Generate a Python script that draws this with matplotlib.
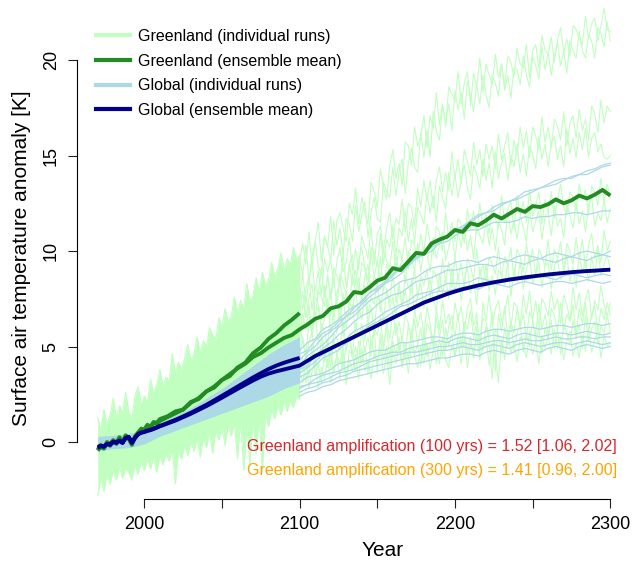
import numpy as np
import matplotlib
matplotlib.use("Agg")
import matplotlib.pyplot as plt
from matplotlib.lines import Line2D

plt.rcParams['font.family'] = ['Liberation Sans', 'DejaVu Sans']

# ---------------- data ----------------
# Envelope of the dense Greenland 1970-2100 ensemble (2-year grid)
band_years = np.arange(1970, 2101, 2)
green_band_upper = [1.3, 0.6, 1.7, 1.0, 1.4, 2.3, 1.2, 1.9, 1.5, 2.6, 1.6, 1.2, 2.4, 2.9, 2.0, 2.4,
                    2.1, 3.3, 2.6, 3.0, 3.8, 2.9, 3.4, 3.2, 4.6, 3.6, 4.2, 3.8, 4.4, 5.1,
                    4.3, 4.6, 5.5, 4.7, 5.3, 5.0, 6.0, 5.6, 5.4, 6.5, 6.0, 7.0, 6.3, 6.6, 7.6,
                    6.8, 7.4, 7.0, 8.3, 7.4, 7.7, 8.6, 7.9, 8.9, 8.2, 8.5, 9.4, 8.6, 9.1, 9.9,
                    8.9, 9.6, 9.3, 10.2, 9.5, 9.8]
green_band_lower = [-2.8, -1.9, -2.6, -1.7, -2.2, -1.5, -2.0, -1.3, -1.9, -1.4, -1.6, -2.0, -1.2, -1.7, -1.0, -1.5,
                    -0.9, -1.4, -0.8, -1.6, -0.7, -1.2, -0.6, -1.0, -0.4, -2.2, -0.5, -0.9, -0.2, -0.7, 0.0,
                    -0.5, 0.2, -0.8, 0.3, -0.3, 0.5, -0.6, 0.6, 0.1, 0.8, -0.2, 0.9, 0.3, 1.0, -0.9,
                    1.1, -1.5, 0.8, -1.2, 1.2, -0.6, 1.3, -1.6, 1.5, 0.8, 1.7, 1.2, 1.9, 1.4, 2.1,
                    1.6, 2.2, 1.8, 2.4, 2.2]

# Envelope of the dense global 1970-2100 ensemble (10-year grid)
gband_years = np.arange(1970, 2101, 10)
global_band_upper = [0.3, 0.35, 0.45, 0.6, 1.0, 1.4, 1.8, 2.3, 2.8, 3.4, 4.0, 4.6, 5.1, 5.5]
global_band_lower = [-0.45, -0.35, -0.3, -0.1, 0.3, 0.6, 0.9, 1.2, 1.5, 1.8, 2.1, 2.4, 2.8, 3.1]

# Long Greenland runs 2100-2300 (2-year grid)
long_years = np.arange(2100, 2301, 2)
greenland_runs = [
    [9.5, 10.4, 9.3, 11.0, 9.2, 10.5, 11.5, 9.5, 10.8, 10.2,
     11.8, 9.8, 11.6, 12.0, 11.2, 10.5, 12.5, 11.9, 13.3, 11.4,
     12.8, 12.0, 11.4, 13.6, 13.1, 12.3, 14.3, 13.3, 12.7, 14.5,
     15.3, 13.8, 14.6, 13.4, 15.7, 15.5, 14.5, 16.5, 15.5, 16.0,
     17.1, 15.4, 17.1, 16.4, 18.3, 16.6, 17.7, 16.5, 18.6, 18.2,
     17.8, 19.4, 17.7, 18.8, 19.4, 17.6, 19.3, 18.6, 20.1, 18.3,
     19.8, 19.2, 18.7, 20.3, 19.1, 19.8, 18.6, 20.2, 19.9, 19.1,
     20.6, 19.8, 19.6, 20.8, 19.1, 20.5, 20.8, 19.6, 21.3, 20.5,
     20.3, 21.2, 19.9, 21.0, 21.7, 20.4, 21.1, 20.2, 21.8, 21.6,
     21.1, 20.8, 22.3, 21.1, 21.9, 22.2, 21.0, 21.8, 22.7, 21.6, 21.5],
    [9.6, 8.7, 10.3, 8.5, 9.7, 10.5, 9.2, 8.8, 10.7, 10.3,
     9.5, 11.6, 10.3, 11.2, 9.8, 11.7, 11.4, 10.5, 12.4, 11.0,
     11.9, 12.6, 10.7, 12.0, 12.8, 11.7, 11.5, 13.6, 13.1, 12.8,
     14.4, 12.9, 14.1, 14.8, 13.0, 14.6, 15.4, 14.4, 14.1, 16.2,
     14.9, 16.3, 14.9, 17.3, 16.3, 15.8, 17.6, 16.7, 17.7, 16.3,
     18.4, 17.4, 18.3, 16.9, 18.9, 18.2, 17.3, 18.7, 17.7, 19.2,
     18.2, 17.5, 19.2, 18.8, 18.1, 19.8, 18.4, 19.2, 18.0, 19.6,
     19.5, 18.7, 20.2, 19.2, 18.6, 20.2, 19.7, 19.0, 20.7, 19.5,
     20.4, 19.2, 20.2, 20.9, 19.7, 20.5, 19.3, 21.0, 20.5, 20.1,
     21.5, 20.5, 20.1, 21.3, 21.0, 20.1, 21.7, 21.4, 20.7, 22.0, 21.0],
    [7.6, 8.8, 7.3, 8.5, 9.4, 7.9, 9.0, 7.7, 9.6, 8.9,
     9.6, 8.3, 9.4, 10.2, 8.9, 9.4, 10.7, 9.0, 10.1, 9.0,
     10.8, 10.2, 9.6, 11.3, 9.3, 10.9, 11.3, 10.0, 11.2, 12.0,
     10.6, 11.7, 11.4, 12.7, 11.0, 12.5, 12.3, 11.3, 13.3, 12.3,
     13.7, 12.6, 13.7, 12.2, 13.7, 14.4, 13.1, 14.1, 13.2, 15.2,
     13.8, 14.8, 13.5, 15.3, 14.7, 13.9, 15.7, 14.5, 15.3, 13.9,
     15.6, 14.8, 15.5, 14.3, 16.1, 14.8, 15.5, 16.2, 14.5, 15.8,
     15.0, 16.5, 15.4, 16.3, 14.9, 16.5, 16.0, 15.3, 17.0, 15.7,
     16.5, 15.4, 16.9, 16.5, 15.8, 17.3, 15.5, 16.7, 17.1, 15.9,
     17.4, 16.3, 16.9, 15.8, 17.6, 17.2, 16.2, 17.9, 16.7, 17.6, 17.3],
    [8.0, 6.9, 8.0, 8.7, 6.9, 8.1, 7.7, 9.1, 7.6, 8.7,
     7.5, 9.1, 8.7, 8.2, 9.9, 8.1, 9.3, 9.8, 8.2, 9.5,
     10.2, 9.1, 8.5, 10.2, 9.9, 9.2, 10.9, 9.3, 10.6, 10.2,
     11.3, 9.8, 11.2, 10.8, 12.1, 10.5, 11.7, 10.4, 12.3, 11.9,
     11.4, 13.0, 12.0, 12.9, 11.5, 13.4, 12.8, 12.2, 14.1, 12.9,
     14.0, 12.8, 13.7, 14.5, 13.3, 12.7, 14.5, 14.0, 13.3, 14.8,
     13.7, 14.6, 13.3, 15.2, 13.8, 14.6, 15.1, 13.7, 15.0, 14.4,
     15.6, 14.1, 15.1, 13.9, 15.5, 15.1, 14.3, 16.0, 14.8, 15.6,
     14.4, 15.6, 16.0, 14.8, 15.5, 14.4, 16.4, 15.1, 15.9, 14.9,
     16.2, 15.3, 16.4, 14.9, 15.9, 16.2, 15.2, 15.6, 14.9, 14.8, 15.0],
    [6.7, 7.9, 6.5, 7.5, 8.3, 6.5, 7.9, 7.6, 7.1, 8.8,
     7.5, 8.5, 7.1, 8.8, 8.3, 7.7, 9.3, 8.2, 9.0, 7.9,
     9.4, 9.1, 8.1, 10.0, 8.6, 9.5, 8.4, 10.1, 9.5, 9.1,
     10.5, 9.1, 10.1, 9.6, 10.7, 9.0, 10.6, 10.3, 9.5, 10.9,
     9.9, 11.4, 10.5, 9.8, 11.3, 11.0, 10.0, 12.0, 10.7, 11.5,
     10.5, 11.7, 11.4, 10.4, 12.2, 11.2, 12.1, 10.9, 12.5, 11.2,
     11.9, 10.9, 12.4, 11.7, 11.2, 12.9, 11.5, 12.2, 12.6, 11.1,
     12.9, 11.9, 12.6, 11.5, 13.2, 11.8, 12.4, 13.1, 11.4, 12.7,
     12.0, 13.1, 11.7, 12.7, 13.5, 12.3, 11.9, 13.1, 12.8, 12.1,
     13.5, 12.7, 13.2, 11.9, 13.4, 13.1, 12.4, 13.8, 12.6, 13.5, 12.8],
    [6.9, 6.0, 7.6, 6.6, 5.9, 7.6, 7.2, 6.4, 8.2, 6.9,
     7.9, 6.4, 7.8, 8.4, 7.2, 7.9, 7.0, 8.8, 7.8, 8.6,
     7.3, 8.7, 9.3, 7.8, 8.7, 8.3, 9.7, 7.9, 9.3, 8.9,
     8.4, 9.8, 8.9, 9.7, 8.3, 10.0, 9.5, 9.0, 10.4, 8.9,
     10.2, 9.9, 8.9, 10.7, 9.6, 10.3, 11.0, 9.5, 10.2, 10.9,
     9.6, 11.0, 10.2, 11.4, 10.0, 10.8, 9.6, 11.4, 10.8, 10.4,
     11.6, 10.3, 11.2, 10.0, 11.6, 11.1, 10.3, 12.1, 10.9, 11.6,
     10.6, 11.9, 11.2, 10.5, 12.3, 11.0, 11.6, 12.1, 10.6, 11.8,
     12.0, 10.8, 12.4, 11.3, 11.7, 10.7, 12.4, 11.9, 11.2, 12.6,
     11.4, 12.1, 11.0, 12.4, 12.8, 11.3, 12.0, 11.6, 12.7, 11.5, 12.2],
    [5.5, 6.7, 5.9, 7.2, 5.5, 6.6, 7.1, 5.9, 6.4, 7.5,
     5.7, 6.9, 7.4, 6.4, 7.8, 6.0, 7.3, 6.9, 8.0, 6.6,
     7.7, 8.2, 6.7, 7.6, 7.2, 8.4, 6.8, 8.2, 8.0, 7.3,
     8.9, 7.3, 8.3, 7.1, 8.7, 8.1, 7.8, 9.1, 7.5, 8.7,
     8.2, 9.1, 7.5, 9.0, 8.7, 7.9, 9.6, 8.4, 9.4, 8.1,
     9.7, 8.6, 9.4, 8.1, 9.6, 9.2, 8.5, 10.1, 8.7, 9.3,
     8.4, 9.7, 9.3, 8.8, 10.2, 8.6, 9.7, 9.2, 10.2, 8.4,
     10.1, 9.7, 8.9, 10.4, 9.3, 10.1, 8.7, 10.1, 9.7, 9.2,
     10.6, 9.0, 10.1, 9.6, 10.5, 8.9, 10.4, 10.0, 9.3, 10.7,
     9.6, 10.6, 9.1, 10.3, 10.9, 9.6, 10.3, 9.4, 11.1, 10.0, 10.5],
    [6.2, 5.2, 4.7, 6.2, 5.8, 6.7, 5.2, 6.2, 5.8, 5.0,
     6.9, 6.4, 5.7, 7.3, 5.5, 6.8, 6.4, 7.2, 5.7, 7.1,
     6.4, 7.7, 6.2, 7.1, 5.8, 7.6, 7.4, 6.4, 7.9, 7.0,
     7.6, 6.5, 8.2, 7.1, 7.9, 6.9, 8.5, 6.7, 7.8, 8.3,
     7.0, 7.9, 8.5, 7.5, 6.9, 8.8, 7.8, 8.6, 7.5, 9.1,
     7.8, 8.8, 7.4, 8.6, 9.1, 7.8, 8.4, 7.2, 9.1, 8.2,
     9.3, 7.9, 8.7, 7.7, 9.0, 8.7, 8.2, 9.4, 7.6, 9.1,
     8.4, 9.4, 8.0, 9.0, 9.7, 8.3, 8.7, 9.4, 8.1, 9.2,
     9.4, 8.0, 9.2, 9.6, 8.5, 8.9, 9.8, 8.4, 9.2, 8.1,
     9.9, 8.9, 9.5, 8.4, 9.7, 8.7, 10.1, 8.7, 9.3, 9.8, 9.0],
    [4.6, 5.5, 4.3, 5.2, 5.8, 4.1, 5.1, 5.7, 4.6, 5.4,
     4.4, 5.7, 5.4, 4.9, 6.3, 4.8, 5.7, 4.5, 6.2, 5.5,
     6.2, 5.3, 6.6, 5.0, 6.0, 5.6, 6.6, 4.8, 6.3, 5.4,
     6.9, 5.6, 6.3, 5.3, 6.7, 6.2, 5.3, 6.9, 6.0, 6.8,
     5.6, 7.1, 6.2, 5.0, 7.0, 5.9, 7.4, 6.2, 6.7, 5.8,
     7.3, 6.4, 7.1, 5.8, 7.0, 7.5, 6.1, 6.8, 4.5, 7.3,
     6.4, 7.7, 6.1, 7.0, 7.4, 6.3, 6.8, 7.7, 6.0, 7.3,
     7.1, 6.1, 7.7, 6.7, 7.9, 6.4, 7.4, 6.0, 7.5, 7.2,
     6.6, 7.9, 6.9, 7.5, 6.2, 7.7, 7.2, 6.4, 8.1, 6.9,
     7.8, 6.6, 7.5, 8.0, 6.4, 7.4, 6.9, 8.2, 7.2, 6.6, 7.3],
    [4.8, 3.7, 4.5, 3.4, 5.1, 4.5, 3.8, 5.4, 4.2, 5.0,
     3.9, 5.4, 4.5, 5.2, 3.8, 5.1, 5.5, 4.4, 5.0, 4.2,
     5.9, 4.7, 5.5, 4.5, 6.0, 3.6, 5.7, 5.1, 6.0, 4.5,
     5.6, 6.2, 4.8, 5.5, 4.6, 6.1, 5.3, 6.4, 5.1, 6.0,
     4.7, 6.2, 5.9, 5.0, 6.5, 5.5, 6.4, 4.8, 6.1, 6.6,
     5.5, 6.7, 5.1, 6.3, 5.9, 6.9, 5.4, 6.4, 5.1, 6.5,
     6.3, 5.5, 6.8, 3.7, 6.7, 5.8, 7.1, 5.5, 6.3, 5.7,
     7.0, 6.0, 6.7, 5.4, 6.8, 6.4, 5.6, 7.2, 5.9, 6.7,
     5.6, 7.0, 6.6, 5.9, 7.3, 5.8, 6.7, 6.3, 7.2, 5.6,
     7.0, 6.2, 7.3, 5.8, 6.7, 7.1, 5.8, 7.0, 6.4, 7.3, 6.6],
    [3.4, 4.4, 3.1, 4.2, 4.8, 3.5, 4.1, 3.1, 4.8, 3.9,
     4.9, 3.6, 4.6, 4.1, 5.0, 3.3, 4.8, 4.5, 3.7, 5.3,
     4.1, 5.0, 3.6, 5.3, 4.7, 4.0, 5.5, 4.3, 5.0, 3.9,
     5.3, 4.6, 5.5, 4.0, 5.2, 4.3, 5.9, 4.6, 5.1, 4.0,
     5.8, 4.5, 5.1, 5.6, 4.1, 5.4, 4.5, 6.0, 5.0, 5.7,
     4.5, 5.6, 4.9, 6.1, 4.6, 5.5, 4.4, 6.0, 5.4, 4.8,
     6.1, 5.2, 3.3, 5.9, 5.6, 4.6, 6.0, 5.0, 6.3, 4.8,
     5.7, 6.2, 4.7, 5.6, 5.0, 6.4, 5.2, 6.0, 4.6, 6.0,
     5.4, 6.4, 4.9, 5.9, 4.6, 6.2, 5.7, 5.1, 6.4, 5.4,
     6.2, 4.9, 6.6, 5.3, 5.9, 6.3, 5.1, 6.1, 5.7, 6.6, 5.8],
    [3.9, 3.1, 4.3, 2.8, 3.7, 4.2, 2.8, 3.9, 3.3, 4.4,
     3.1, 3.9, 4.5, 3.3, 4.7, 3.0, 4.3, 3.7, 4.6, 3.3,
     4.9, 3.7, 4.3, 3.3, 4.7, 4.1, 4.9, 3.6, 4.6, 3.0,
     4.9, 4.1, 5.1, 3.9, 4.7, 3.6, 5.1, 4.5, 3.9, 5.0,
     4.1, 5.2, 3.8, 4.8, 5.2, 4.1, 5.5, 4.3, 3.9, 5.1,
     4.5, 5.3, 4.1, 5.5, 3.9, 5.1, 4.7, 5.5, 4.3, 5.0,
     5.5, 4.0, 5.2, 4.6, 3.1, 5.4, 4.3, 5.7, 4.7, 5.2,
     4.2, 5.5, 5.1, 4.4, 5.8, 4.6, 5.3, 4.1, 5.6, 4.9,
     5.6, 4.6, 5.9, 4.9, 5.5, 4.3, 5.3, 5.8, 4.5, 5.2,
     4.4, 5.6, 4.8, 5.9, 4.7, 5.4, 5.8, 4.4, 5.6, 5.0, 5.2],
]

# Long global runs 2100-2300 (5-year grid)
glong_years = np.arange(2100, 2301, 5)
global_runs = [
    [4.8, 5.2, 5.4, 5.9, 6.1, 6.4, 6.8, 7.1, 7.3, 7.8, 8.0, 8.3, 8.7, 9.1, 9.3, 9.7, 9.9, 10.3, 10.5, 10.7,
     11.1, 11.3, 11.6, 11.9, 12.0, 12.3, 12.5, 12.6, 12.8, 13.1, 13.2, 13.3, 13.5, 13.7, 13.8, 13.8, 14.0,
     14.2, 14.3, 14.5, 14.6],
    [4.6, 4.8, 5.3, 5.7, 5.9, 6.3, 6.6, 6.8, 7.2, 7.6, 7.9, 8.3, 8.5, 8.8, 9.2, 9.6, 9.8, 10.0, 10.4, 10.8,
     11.0, 11.2, 11.5, 11.8, 12.0, 12.1, 12.4, 12.6, 12.7, 12.9, 13.1, 13.3, 13.4, 13.5, 13.7, 13.9, 14.0,
     14.0, 14.2, 14.4, 14.5],
    [4.3, 4.7, 5.0, 5.5, 5.8, 6.1, 6.6, 7.0, 7.4, 7.8, 8.1, 8.4, 8.8, 9.2, 9.4, 9.6, 9.9, 10.2, 10.4, 10.5,
     10.8, 11.0, 11.1, 11.1, 11.3, 11.5, 11.5, 11.5, 11.6, 11.8, 11.7, 11.8, 11.8, 11.9, 11.9, 12.0, 12.0,
     11.9, 12.0, 12.1, 12.1],
    [4.0, 4.5, 4.8, 5.1, 5.5, 6.0, 6.3, 6.6, 7.0, 7.4, 7.6, 7.8, 8.1, 8.4, 8.5, 8.6, 8.9, 9.1, 9.2, 9.2,
     9.4, 9.5, 9.5, 9.4, 9.6, 9.7, 9.6, 9.5, 9.7, 9.8, 9.7, 9.6, 9.8, 9.9, 9.8, 9.7, 9.9, 10.0, 9.9, 9.8, 10.0],
    [3.8, 4.0, 4.5, 4.9, 5.2, 5.6, 5.9, 6.3, 6.6, 6.8, 7.2, 7.5, 7.7, 7.8, 8.1, 8.4, 8.5, 8.6, 8.8, 9.0,
     9.0, 9.1, 9.2, 9.3, 9.3, 9.2, 9.4, 9.5, 9.4, 9.3, 9.5, 9.6, 9.5, 9.4, 9.6, 9.7, 9.6, 9.5, 9.7, 9.8, 9.7],
    [3.6, 3.9, 4.2, 4.6, 4.8, 5.1, 5.4, 5.8, 6.0, 6.2, 6.5, 6.8, 7.0, 7.2, 7.4, 7.7, 7.8, 7.9, 8.1, 8.3,
     8.3, 8.3, 8.4, 8.6, 8.5, 8.4, 8.5, 8.6, 8.6, 8.5, 8.6, 8.7, 8.6, 8.5, 8.7, 8.8, 8.7, 8.6, 8.7, 8.8, 8.7],
    [3.4, 3.6, 4.0, 4.4, 4.6, 4.8, 5.2, 5.5, 5.8, 6.1, 6.3, 6.5, 6.8, 7.1, 7.2, 7.4, 7.6, 7.8, 7.9, 7.9,
     8.0, 8.1, 8.1, 8.0, 8.2, 8.3, 8.2, 8.1, 8.3, 8.4, 8.3, 8.2, 8.3, 8.4, 8.4, 8.3, 8.4, 8.5, 8.4, 8.3, 8.4],
    [3.1, 3.4, 3.5, 3.6, 3.8, 4.1, 4.2, 4.3, 4.5, 4.7, 4.8, 4.8, 5.0, 5.2, 5.2, 5.3, 5.4, 5.5, 5.5, 5.4,
     5.6, 5.7, 5.7, 5.6, 5.8, 5.9, 5.9, 5.8, 5.9, 6.0, 6.0, 5.9, 6.0, 6.1, 6.1, 6.0, 6.1, 6.2, 6.2, 6.1, 6.2],
    [2.9, 3.0, 3.3, 3.5, 3.6, 3.7, 3.9, 4.1, 4.2, 4.3, 4.5, 4.6, 4.7, 4.7, 4.9, 5.0, 5.1, 5.2, 5.3, 5.2,
     5.4, 5.5, 5.4, 5.3, 5.5, 5.6, 5.5, 5.4, 5.6, 5.7, 5.6, 5.5, 5.6, 5.7, 5.7, 5.6, 5.7, 5.8, 5.7, 5.6, 5.7],
    [2.8, 3.0, 3.1, 3.2, 3.4, 3.6, 3.7, 3.8, 4.0, 4.2, 4.3, 4.4, 4.5, 4.6, 4.7, 4.7, 4.8, 4.9, 5.0, 5.0,
     5.1, 5.2, 5.1, 5.1, 5.2, 5.3, 5.3, 5.2, 5.3, 5.4, 5.3, 5.3, 5.4, 5.5, 5.4, 5.4, 5.5, 5.5, 5.4, 5.5, 5.5],
    [2.6, 2.8, 2.9, 3.1, 3.2, 3.4, 3.5, 3.7, 3.8, 3.9, 4.0, 4.1, 4.2, 4.3, 4.4, 4.5, 4.6, 4.7, 4.8, 4.8,
     4.9, 5.0, 4.9, 4.8, 5.0, 5.1, 5.0, 4.9, 5.1, 5.2, 5.1, 5.0, 5.1, 5.2, 5.2, 5.1, 5.2, 5.3, 5.2, 5.1, 5.2],
    [2.4, 2.6, 2.7, 2.9, 3.0, 3.2, 3.3, 3.4, 3.5, 3.6, 3.7, 3.8, 3.9, 4.0, 4.1, 4.1, 4.2, 4.3, 4.4, 4.4,
     4.5, 4.6, 4.6, 4.5, 4.7, 4.8, 4.7, 4.6, 4.8, 4.9, 4.8, 4.7, 4.9, 5.0, 4.9, 4.8, 5.0, 5.1, 5.0, 4.9, 5.0],
]

# Ensemble means
mean_long_years = list(range(1970, 2011, 2)) + list(range(2015, 2301, 5))
greenland_mean_long = [-0.45, -0.25, -0.35, -0.05, -0.2, 0.05, -0.1, 0.15, -0.05, 0.3, 0.15, -0.15, 0.25, 0.45, 0.65,
                       0.6, 0.85, 0.7, 1.0, 0.95, 1.1,
                       1.3, 1.5, 1.7, 2.05, 2.3, 2.65, 2.9, 3.25, 3.55, 3.85, 4.1, 4.45, 4.65, 4.95, 5.2, 5.45, 5.6,
                       5.9, 6.15, 6.45, 6.6, 7.0, 7.1, 7.35, 7.85, 7.8, 8.1, 8.45, 8.6, 9.1, 9.0, 9.45, 9.9, 9.85,
                       10.4, 10.6, 10.75, 11.1, 11.0, 11.45, 11.35, 11.6, 11.9, 11.7, 11.95, 12.2, 12.05, 12.35,
                       12.3, 12.45, 12.7, 12.5, 12.65, 12.9, 12.75, 12.95, 13.2, 12.9]
global_mean_long = [-0.3, -0.22, -0.25, -0.1, -0.15, 0.0, -0.05, 0.05, -0.05, 0.2, 0.25, -0.05, 0.2, 0.4, 0.48,
                    0.52, 0.58, 0.62, 0.68, 0.75, 0.82,
                    0.97, 1.12, 1.3, 1.48, 1.68, 1.88, 2.1, 2.32, 2.55, 2.78, 3.0, 3.22, 3.42, 3.58, 3.7, 3.8, 3.9, 4.0,
                    4.25, 4.5, 4.7, 4.9, 5.1, 5.3, 5.5, 5.7, 5.9, 6.1, 6.3, 6.5, 6.7, 6.9, 7.1, 7.3, 7.45, 7.6, 7.75, 7.88,
                    8.0, 8.1, 8.2, 8.28, 8.36, 8.43, 8.5, 8.56, 8.62, 8.67, 8.72, 8.77, 8.81, 8.85, 8.89, 8.92, 8.95,
                    8.97, 9.0, 9.02]

mean_short_years = list(range(1970, 2011, 2)) + list(range(2015, 2101, 5))
greenland_mean_short = [-0.4, -0.15, -0.3, 0.0, -0.1, 0.1, -0.05, 0.25, 0.0, 0.35, 0.2, -0.1, 0.3, 0.5, 0.7,
                        0.65, 0.9, 0.8, 1.05, 1.0, 1.2,
                        1.35, 1.6, 1.7, 2.1, 2.25, 2.65, 2.85, 3.25, 3.45, 3.9, 4.15, 4.65, 4.95, 5.4, 5.7, 6.1,
                        6.4, 6.75]
global_mean_short = [-0.25, -0.2, -0.22, -0.12, -0.12, 0.02, -0.02, 0.08, -0.02, 0.22, 0.27, -0.02, 0.22, 0.42,
                     0.5, 0.54, 0.6, 0.64, 0.7, 0.77, 0.84,
                     1.0, 1.16, 1.34, 1.53, 1.74, 1.95, 2.18, 2.42, 2.66, 2.9, 3.14, 3.38, 3.6, 3.82, 4.0, 4.15,
                     4.28, 4.4]

legend_labels = ["Greenland (individual runs)", "Greenland (ensemble mean)",
                 "Global (individual runs)", "Global (ensemble mean)"]
amp_texts = ["Greenland amplification (100 yrs) = 1.52 [1.06, 2.02]",
             "Greenland amplification (300 yrs) = 1.41 [0.96, 2.00]"]
x_ticks = [2000, 2050, 2100, 2150, 2200, 2250, 2300]
x_ticklabels = ["2000", "", "2100", "", "2200", "", "2300"]
y_ticks = [0, 5, 10, 15, 20]

# ---------------- styling ----------------
c_green_ind = "#C1FFC1"
c_green_mean = "#228B22"
c_blue_ind = "#ADD8E6"
c_blue_mean = "#00008B"

W, H = 634, 565
fig = plt.figure(figsize=(W / 100, H / 100), dpi=100)
ax = fig.add_axes([0, 0, 1, 1])

# pixel mapping: year 2000 -> x=144.3, 2300 -> 610.3 ; value 0 -> y=442, 20 -> 60
px_per_year = (610.3 - 144.3) / 300.0
px_per_unit = (442 - 60) / 20.0
ax.set_xlim(2000 - 144.3 / px_per_year, 2000 + (W - 144.3) / px_per_year)
ax.set_ylim(-(H - 442) / px_per_unit, 442 / px_per_unit)
ax.patch.set_alpha(0)

# Greenland dense ensemble + long runs
ax.fill_between(band_years, green_band_lower, green_band_upper, color=c_green_ind, lw=0, zorder=1)
ax.plot(band_years, green_band_upper, color=c_green_ind, lw=0.8, zorder=1)
ax.plot(band_years, green_band_lower, color=c_green_ind, lw=0.8, zorder=1)
for run in greenland_runs:
    ax.plot(long_years, run, color=c_green_ind, lw=0.8, zorder=1)

# Global dense ensemble + long runs
ax.fill_between(gband_years, global_band_lower, global_band_upper, color=c_blue_ind, lw=0, zorder=2)
for run in global_runs:
    ax.plot(glong_years, run, color=c_blue_ind, lw=0.9, zorder=2)

# ensemble means
ax.plot(mean_short_years, greenland_mean_short, color=c_green_mean, lw=2.8, zorder=3, solid_capstyle='butt')
ax.plot(mean_long_years, greenland_mean_long, color=c_green_mean, lw=2.8, zorder=3, solid_capstyle='butt')
ax.plot(mean_short_years, global_mean_short, color=c_blue_mean, lw=2.8, zorder=4, solid_capstyle='butt')
ax.plot(mean_long_years, global_mean_long, color=c_blue_mean, lw=2.8, zorder=4, solid_capstyle='butt')

# axes in R style
for s in ["top", "right"]:
    ax.spines[s].set_visible(False)
ax.spines["left"].set_position(("data", 2000 - (144.3 - 77) / px_per_year))
ax.spines["left"].set_bounds(0, 20)
ax.spines["bottom"].set_position(("data", -(499 - 442) / px_per_unit))
ax.spines["bottom"].set_bounds(2000, 2300)
ax.spines["left"].set_linewidth(0.8)
ax.spines["bottom"].set_linewidth(0.8)
ax.set_xticks(x_ticks)
ax.set_xticklabels(x_ticklabels)
ax.set_yticks(y_ticks)
ax.set_yticklabels([str(v) for v in y_ticks], rotation=90, va="center")
ax.tick_params(axis="both", length=6.5, width=0.8, labelsize=13, pad=6, color="#222222")

fig.text(22 / W, 1 - 258 / H, "Surface air temperature anomaly [K]", rotation=90,
         ha="center", va="center", fontsize=15)
fig.text(383 / W, 1 - 551 / H, "Year", ha="center", va="center", fontsize=15)

handles = [Line2D([], [], color=c_green_ind, lw=3),
           Line2D([], [], color=c_green_mean, lw=3),
           Line2D([], [], color=c_blue_ind, lw=3),
           Line2D([], [], color=c_blue_mean, lw=3)]
ax.legend(handles, legend_labels, loc="upper left", bbox_to_anchor=(96 / W, 1 - 29 / H),
          bbox_transform=fig.transFigure, frameon=False, fontsize=11.5, handlelength=2.1,
          handletextpad=0.55, labelspacing=0.6, borderpad=0, borderaxespad=0)

fig.text(617 / W, 1 - 446 / H, amp_texts[0], color="#D7282F", ha="right", va="center", fontsize=11.5)
fig.text(617 / W, 1 - 470 / H, amp_texts[1], color="#FFA500", ha="right", va="center", fontsize=11.5)

fig.savefig("out.png", dpi=100)
